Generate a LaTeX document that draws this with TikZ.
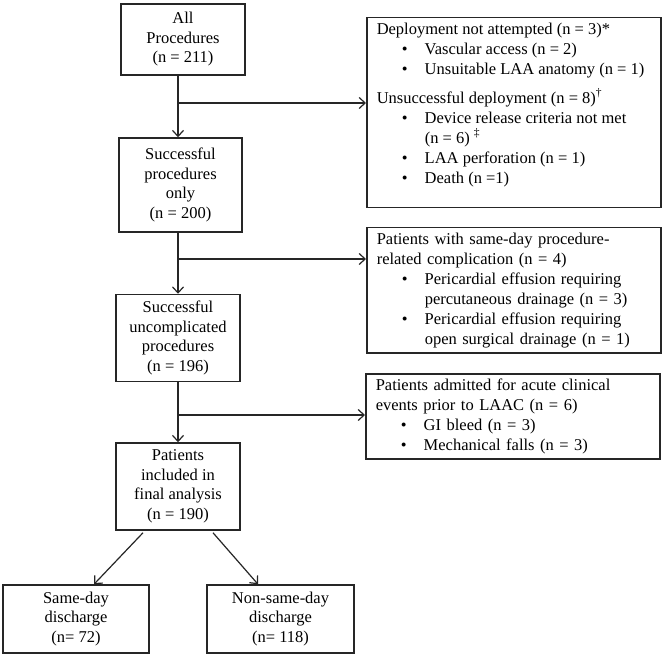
\documentclass[tikz,border=0pt]{standalone}
\usepackage{fontspec}
\setmainfont{Liberation Serif}
\usetikzlibrary{arrows.meta,calc}
\newcommand\bl[1]{\hspace*{25pt}\makebox[23pt][l]{\textbullet}#1}
\newcommand\cont[1]{\hspace*{48pt}#1}
\begin{document}
\begin{tikzpicture}[x=1pt,y=-1pt,
  lbox/.style={draw=black!85, line width=1.5pt, align=center, inner sep=0pt, font=\fontsize{16.5}{19.5}\selectfont},
  rbox/.style={draw=black!85, line width=1.5pt, anchor=north west, inner xsep=10pt, inner ysep=5pt, align=left, font=\fontsize{16.5}{20}\selectfont},
  arr/.style={draw=black!85, line width=1.2pt, -{Straight Barb[length=6pt,width=11pt]}}]
\useasboundingbox[fill=white] (0,0) rectangle (666,660);

% left column
\node[lbox, minimum width=124pt, minimum height=71pt] (b1) at (183,39.5) {All\\Procedures\\(n = 211)};
\node[lbox, minimum width=123pt, minimum height=94pt] (b2) at (180.5,185) {Successful\\procedures\\only\\(n = 200)};
\node[lbox, minimum width=124pt, minimum height=87pt] (b3) at (178,338) {Successful\\uncomplicated\\procedures\\(n = 196)};
\node[lbox, minimum width=124pt, minimum height=87pt] (b4) at (178,486.5) {Patients\\included in\\final analysis\\(n = 190)};
\node[lbox, minimum width=146pt, minimum height=68pt] (b5) at (76,619) {Same-day\\discharge\\(n= 72)};
\node[lbox, minimum width=147pt, minimum height=68pt] (b6) at (280.5,619) {Non-same-day\\discharge\\(n= 118)};

% right column
\node[rbox] (r1) at (366,17) {\parbox[t][180pt][t]{274pt}{%
Deployment not attempted (n = 3)*\\
\bl{Vascular access (n = 2)}\\
\bl{Unsuitable LAA anatomy (n = 1)}\\[9pt]
Unsuccessful deployment (n = 8)\textsuperscript{†}\\
\bl{Device release criteria not met}\\
\cont{(n = 6) \textsuperscript{‡}}\\
\bl{LAA perforation (n = 1)}\\
\bl{Death (n =1)}}};
\node[rbox, text width=274pt] (r2) at (366,227) {Patients with same-day procedure-\\
related complication (n = 4)\\
\bl{Pericardial effusion requiring}\\
\cont{percutaneous drainage (n = 3)}\\
\bl{Pericardial effusion requiring}\\
\cont{open surgical drainage (n = 1)}};
\node[rbox, text width=274pt] (r3) at (365,373) {Patients admitted for acute clinical\\
events prior to LAAC (n = 6)\\
\bl{GI bleed (n = 3)}\\
\bl{Mechanical falls (n = 3)}};

% trunk
\coordinate (t) at (178,0);
\coordinate (j1) at (178,103);
\coordinate (j2) at (178,259);
\coordinate (j3) at (178,415);
\draw[arr] (b1.south -| t) -- (b2.north -| t);
\draw[arr] (b2.south -| t) -- (b3.north -| t);
\draw[arr] (b3.south -| t) -- (b4.north -| t);
\draw[arr] (j1) -- (j1 -| r1.west);
\draw[arr] (j2) -- (j2 -| r2.west);
\draw[arr] (j3) -- (j3 -| r3.west);

% split
\coordinate (d1) at ($(b4.south)+(-35,2)$);
\coordinate (d2) at ($(b4.south)+(35,2)$);
\draw[arr] (d1) -- ($(b5.north)+(18,0)$);
\draw[arr] (d2) -- ($(b6.north)+(-22.5,0)$);
\end{tikzpicture}
\end{document}
